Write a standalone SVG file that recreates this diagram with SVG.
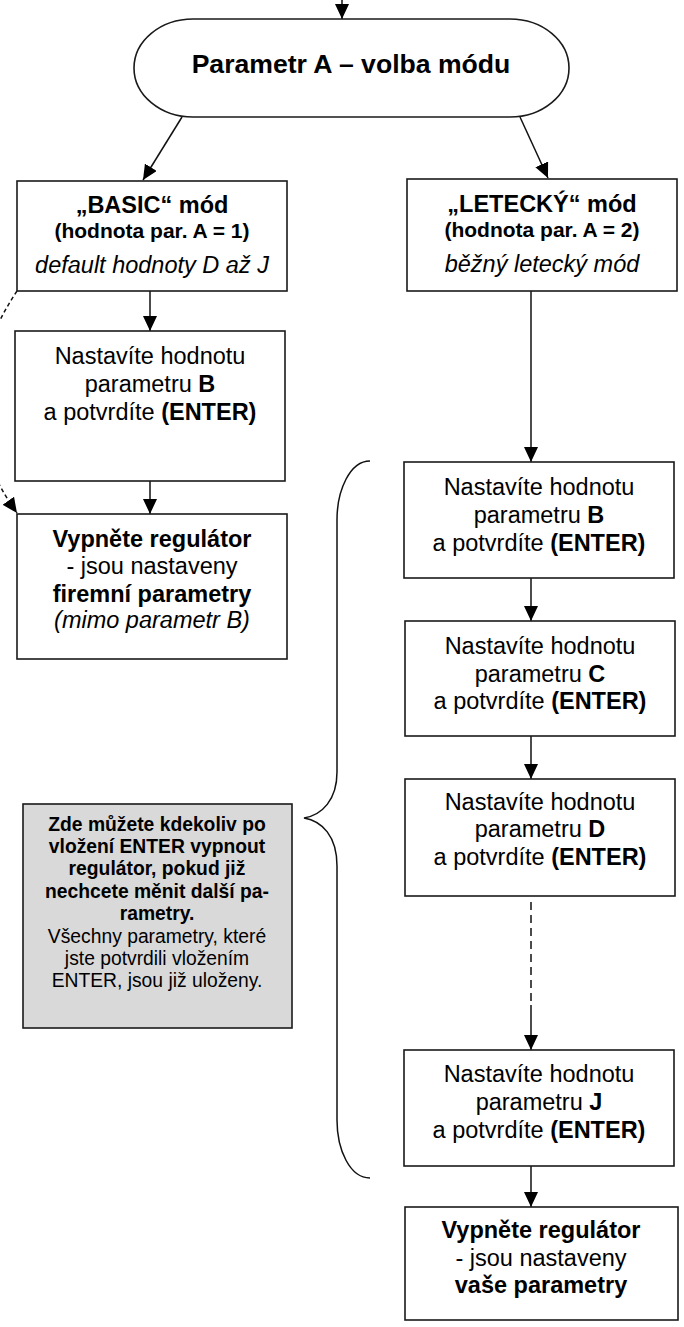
<svg xmlns="http://www.w3.org/2000/svg" width="684" height="1327" viewBox="0 0 684 1327">
<defs>
<style>
.box{fill:#fff;stroke:#1a1a1a;stroke-width:1.6}
.gray{fill:#d9d9d9;stroke:#1a1a1a;stroke-width:1.6}
text{font-family:"Liberation Sans",Arial,sans-serif;font-size:23.5px;fill:#000;text-anchor:middle}
.b{font-weight:bold}
.i{font-style:italic}
.sub{font-size:21px;font-weight:bold}
.big{font-size:26.6px;font-weight:bold}
.note{font-size:19.3px}
.ln{fill:none;stroke:#111;stroke-width:1.5}
.dash{stroke-dasharray:8 5}
.dots{stroke-dasharray:4 3}
</style>
<marker id="ah" viewBox="0 0 15 14" markerUnits="userSpaceOnUse" markerWidth="15" markerHeight="14" refX="15" refY="7" orient="auto">
<path d="M0,0 L15,7 L0,14 z" fill="#000"/>
</marker>
</defs>

<g id="connectors">
<path class="ln" d="M342,0 L342,19" marker-end="url(#ah)"/>
<path class="ln" d="M182,117 L143,180" marker-end="url(#ah)"/>
<path class="ln" d="M520,117 L548,178" marker-end="url(#ah)"/>
<path class="ln" d="M150,291 L150,331" marker-end="url(#ah)"/>
<path class="ln" d="M150,481 L150,514" marker-end="url(#ah)"/>
<path class="ln" d="M531,291 L531,462" marker-end="url(#ah)"/>
<path class="ln" d="M531,578 L531,621" marker-end="url(#ah)"/>
<path class="ln" d="M531,736 L531,779" marker-end="url(#ah)"/>
<path class="ln dash" d="M531,902 L531,1005"/>
<path class="ln" d="M531,1005 L531,1050" marker-end="url(#ah)"/>
<path class="ln" d="M531,1166 L531,1207" marker-end="url(#ah)"/>
<path class="ln dots" d="M17,291 C-35,370 -35,440 17,513" marker-end="url(#ah)"/>
<path class="ln" d="M370,461 C350,461 337,490 337,520 L337,772 C337,800 322,815 304,818 C322,821 337,836 337,866 L337,1120 C337,1150 350,1178 370,1178"/>
</g>

<g id="mode-select">
<rect class="box" x="134" y="19" width="435" height="98" rx="59" ry="49"/>
<text class="big" x="351" y="73">Parametr A – volba módu</text>
</g>

<g id="basic-mode">
<rect class="box" x="17" y="181" width="270" height="110"/>
<text class="b" x="152" y="213">„BASIC“ mód</text>
<text class="sub" x="152" y="238">(hodnota par. A = 1)</text>
<text class="i" x="152" y="273">default hodnoty D až J</text>
</g>

<g id="letecky-mode">
<rect class="box" x="407" y="179" width="270" height="112"/>
<text class="b" x="542" y="212">„LETECKÝ“ mód</text>
<text class="sub" x="542" y="237">(hodnota par. A = 2)</text>
<text class="i" x="542" y="272">běžný letecký mód</text>
</g>

<g id="basic-set-b">
<rect class="box" x="15" y="331" width="270" height="150"/>
<text x="150" y="364">Nastavíte hodnotu</text>
<text x="150" y="392">parametru <tspan class="b">B</tspan></text>
<text x="150" y="420">a potvrdíte <tspan class="b">(ENTER)</tspan></text>
</g>

<g id="basic-off">
<rect class="box" x="17" y="514" width="270" height="145"/>
<text class="b" x="152" y="547">Vypněte regulátor</text>
<text x="152" y="574">- jsou nastaveny</text>
<text class="b" x="152" y="602">firemní parametry</text>
<text class="i" x="152" y="628">(mimo parametr B)</text>
</g>

<g id="set-b">
<rect class="box" x="404" y="462" width="270" height="116"/>
<text x="539" y="495">Nastavíte hodnotu</text>
<text x="539" y="523">parametru <tspan class="b">B</tspan></text>
<text x="539" y="551">a potvrdíte <tspan class="b">(ENTER)</tspan></text>
</g>

<g id="set-c">
<rect class="box" x="405" y="621" width="270" height="115"/>
<text x="540" y="654">Nastavíte hodnotu</text>
<text x="540" y="682">parametru <tspan class="b">C</tspan></text>
<text x="540" y="709">a potvrdíte <tspan class="b">(ENTER)</tspan></text>
</g>

<g id="set-d">
<rect class="box" x="405" y="779" width="270" height="117"/>
<text x="540" y="810">Nastavíte hodnotu</text>
<text x="540" y="837">parametru <tspan class="b">D</tspan></text>
<text x="540" y="865">a potvrdíte <tspan class="b">(ENTER)</tspan></text>
</g>

<g id="set-j">
<rect class="box" x="404" y="1050" width="270" height="116"/>
<text x="539" y="1082">Nastavíte hodnotu</text>
<text x="539" y="1110">parametru <tspan class="b">J</tspan></text>
<text x="539" y="1138">a potvrdíte <tspan class="b">(ENTER)</tspan></text>
</g>

<g id="final-off">
<rect class="box" x="405" y="1207" width="273" height="113"/>
<text class="b" x="541" y="1238">Vypněte regulátor</text>
<text x="541" y="1266">- jsou nastaveny</text>
<text class="b" x="541" y="1293">vaše parametry</text>
</g>

<g id="note">
<rect class="gray" x="23" y="804" width="269" height="224"/>
<text class="note b" x="157" y="831">Zde můžete kdekoliv po</text>
<text class="note b" x="157" y="853">vložení ENTER vypnout</text>
<text class="note b" x="157" y="875">regulátor, pokud již</text>
<text class="note b" x="157" y="898">nechcete měnit další pa-</text>
<text class="note b" x="157" y="920">rametry.</text>
<text class="note" x="157" y="943">Všechny parametry, které</text>
<text class="note" x="157" y="965">jste potvrdili vložením</text>
<text class="note" x="157" y="987">ENTER, jsou již uloženy.</text>
</g>
</svg>
